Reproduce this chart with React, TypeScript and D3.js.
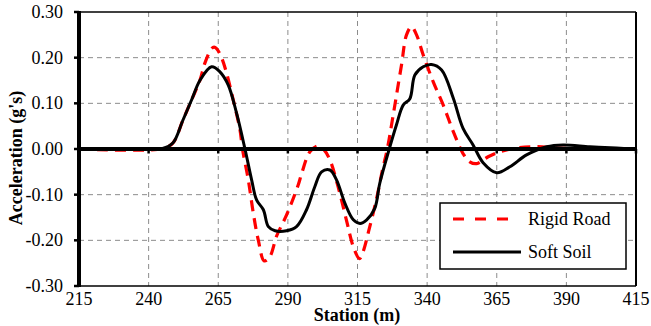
import React from "react";
import * as d3 from "d3";

const xTicks = [215, 240, 265, 290, 315, 340, 365, 390, 415];
const yTicks = [0.3, 0.2, 0.1, 0, -0.1, -0.2, -0.3];
const seriesNames = ["Rigid Road", "Soft Soil"];

const stationRigid = [215, 245, 248.7, 252.3, 255.6, 258.4, 260.2, 262.6, 263.5, 264.4, 266.2, 268, 270.4, 272.8, 273.7, 275.8, 277.6, 279.4, 281.5, 283.5, 286, 289.5, 293.7, 294.9, 297.9, 300.9, 303, 305.1, 308, 311, 313.5, 315.7, 317, 319, 321.8, 324, 325.7, 327.8, 330.8, 332.6, 334.4, 336.2, 338.6, 342.2, 345.8, 349.4, 352.9, 355.3, 357.8, 361.9, 366.1, 372.1, 379.3, 387.7, 400, 415];
const accelRigid = [0, 0.001, 0.013, 0.063, 0.11, 0.15, 0.188, 0.22, 0.223, 0.22, 0.2, 0.166, 0.107, 0.042, 0.0, -0.068, -0.141, -0.2, -0.245, -0.236, -0.19, -0.145, -0.079, -0.055, -0.006, 0.007, -0.002, -0.024, -0.082, -0.155, -0.214, -0.24, -0.225, -0.18, -0.11, -0.045, 0.0, 0.074, 0.184, 0.25, 0.268, 0.25, 0.206, 0.147, 0.096, 0.038, -0.01, -0.028, -0.032, -0.017, -0.006, 0.002, 0.005, 0.002, 0, 0];

const stationSoft = [215, 240, 245, 248.7, 252.3, 255.6, 258.4, 262.6, 265.6, 268.6, 271.6, 274.6, 277, 278.8, 281.2, 283, 285.4, 289.5, 293.1, 296.7, 299.7, 302.1, 305.1, 307.5, 310.5, 313.5, 315.9, 318.3, 321.2, 323, 326.4, 329, 331.4, 333.8, 335.6, 338.6, 341.6, 345.2, 349.4, 352.9, 356.5, 360.1, 365, 369.7, 375.7, 382.9, 388.8, 398.4, 408, 415];
const accelSoft = [0, 0, 0.001, 0.013, 0.063, 0.11, 0.15, 0.18, 0.169, 0.14, 0.078, 0, -0.068, -0.112, -0.133, -0.17, -0.179, -0.179, -0.17, -0.133, -0.082, -0.05, -0.046, -0.068, -0.119, -0.155, -0.163, -0.155, -0.13, -0.075, 0, 0.053, 0.096, 0.11, 0.162, 0.18, 0.185, 0.173, 0.111, 0.045, 0.009, -0.03, -0.052, -0.039, -0.013, 0.005, 0.009, 0.005, 0.002, 0];

const W = 651, H = 326;
const L = 79, R = 636, T = 12, B = 286;
const ts: React.CSSProperties = { fontFamily: '"Liberation Serif"' };

export default function App() {
  const x = d3.scaleLinear().domain([215, 415]).range([L, R]);
  const y = d3.scaleLinear().domain([-0.3, 0.3]).range([B, T]);
  const line = d3.line<[number, number]>()
    .x(d => x(d[0]))
    .y(d => y(d[1]))
    .curve(d3.curveCatmullRom.alpha(0.5));
  const rigid = line(stationRigid.map((s, i) => [s, accelRigid[i]] as [number, number])) || "";
  const soft = line(stationSoft.map((s, i) => [s, accelSoft[i]] as [number, number])) || "";

  return (
    <svg width={W} height={H} style={{ position: "absolute", left: 0, top: 0, background: "#fff" }}>
      <rect x={0} y={0} width={W} height={H} fill="#fff" />
      {xTicks.slice(1, -1).map(t => (
        <line key={"gx" + t} x1={x(t)} x2={x(t)} y1={T} y2={B} stroke="#8c8c8c" strokeWidth={1} strokeDasharray="5,4" />
      ))}
      {yTicks.filter(t => t !== 0.3 && t !== -0.3 && t !== 0).map(t => (
        <line key={"gy" + t} x1={L} x2={R} y1={y(t)} y2={y(t)} stroke="#8c8c8c" strokeWidth={1} strokeDasharray="5,4" />
      ))}
      <line x1={L} x2={R} y1={T} y2={T} stroke="#000" strokeWidth={1.5} />
      <line x1={R} x2={R} y1={T} y2={B} stroke="#000" strokeWidth={2} />
      <line x1={L} x2={R} y1={B} y2={B} stroke="#000" strokeWidth={1.5} />
      <path d={rigid} fill="none" stroke="#ff0000" strokeWidth={3.2} strokeDasharray="11,7" />
      <path d={soft} fill="none" stroke="#000" strokeWidth={3} />
      <line x1={L} x2={R} y1={y(0)} y2={y(0)} stroke="#000" strokeWidth={4} />
      {xTicks.map(t => (
        <line key={"tx" + t} x1={x(t)} x2={x(t)} y1={y(0)} y2={y(0) + 4.5} stroke="#000" strokeWidth={2.5} />
      ))}
      <line x1={L} x2={L} y1={T - 1} y2={B + 1} stroke="#000" strokeWidth={4} />
      {yTicks.map(t => (
        <line key={"ty" + t} x1={L - 5} x2={L} y1={y(t)} y2={y(t)} stroke="#000" strokeWidth={2.5} />
      ))}
      {yTicks.map(t => (
        <text key={"ly" + t} x={63} y={y(t) + 6} textAnchor="end" fontSize={18} style={ts}>{t.toFixed(2)}</text>
      ))}
      {xTicks.map(t => (
        <text key={"lx" + t} x={x(t)} y={305} textAnchor="middle" fontSize={18} style={ts}>{t}</text>
      ))}
      <text x={357} y={321} textAnchor="middle" fontSize={18} fontWeight="bold" style={ts}>Station (m)</text>
      <text transform={`translate(22,${158}) rotate(-90)`} textAnchor="middle" fontSize={18} fontWeight="bold" style={ts}>Acceleration (g's)</text>
      <rect x={440} y={203} width={186} height={66} fill="#fff" stroke="#000" strokeWidth={1.5} />
      <line x1={453} x2={517} y1={219} y2={219} stroke="#ff0000" strokeWidth={3.2} strokeDasharray="11,11" />
      <text x={528} y={225} fontSize={18} style={ts}>{seriesNames[0]}</text>
      <line x1={453} x2={521} y1={252} y2={252} stroke="#000" strokeWidth={3} />
      <text x={528} y={258} fontSize={18} style={ts}>{seriesNames[1]}</text>
    </svg>
  );
}
